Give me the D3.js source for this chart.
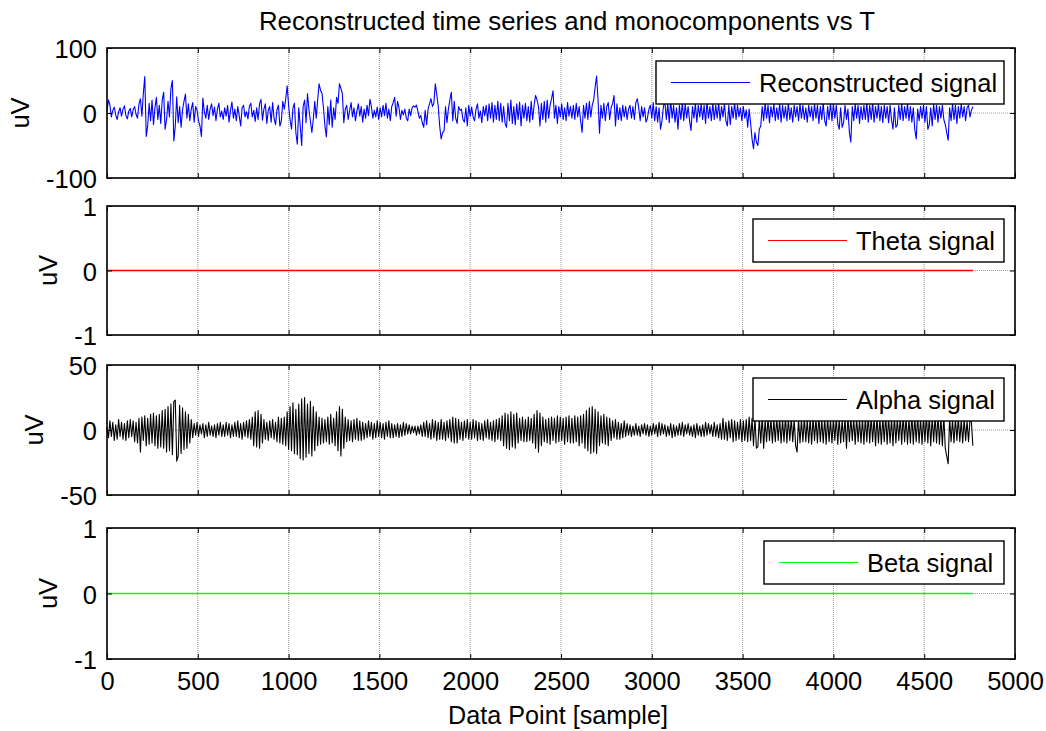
<!DOCTYPE html>
<html><head><meta charset="utf-8">
<script src="https://cdn.jsdelivr.net/npm/d3@7"></script>
<style>
body{margin:0;background:#fff;}
text{font-family:"Liberation Sans",Arial,Helvetica,sans-serif;fill:#000;}
</style>
</head><body>
<svg id="chart" width="1046" height="731"></svg>
<script>
// ---------------- data ----------------
const sampleStep = 8; // samples between stored values
const reconstructed = [
 3,20,12,-6,4,9,-3,-10,2,8,-5,6,11,-4,-9,3,7,-6,5,10,-2,-8,14,22,-5,30,56,-36,-20,15,-12,20,-18,8,24,-10,12,-16,20,32,
 -25,-10,18,-6,38,50,-43,-20,25,-15,10,-22,5,18,29,-8,14,-12,6,16,-14,10,4,-12,-20,-36,23,2,-8,12,-10,6,14,-4,9,-12,6,15,-6,3,
 -10,8,-5,12,-14,4,17,-8,6,-12,10,-4,-20,8,12,-6,2,-9,10,15,-6,4,-13,8,-10,14,21,-11,6,14,-16,4,10,-14,16,-8,-18,5,12,-20,
 -12,18,6,21,42,12,-10,-25,8,15,-30,-48,8,-20,-50,10,20,-15,30,5,-12,-30,-10,18,-8,20,45,35,30,8,-20,-37,10,-18,20,-22,8,-10,24,15,
 45,38,30,-15,6,12,-10,4,16,-6,8,-12,3,14,-5,10,-14,6,-8,12,-4,21,10,-8,4,-6,9,-10,8,-6,12,-4,15,-8,6,-12,10,16,24,-5,
 18,8,-10,4,-3,6,-8,-12,6,-4,8,11,9,12,3,-8,-4,-15,-22,4,-18,6,14,22,10,15,45,28,10,-20,-40,-30,-28,10,-15,6,20,32,-12,18,
 -8,-16,10,4,6,-10,-14,8,-20,12,-5,9,-6,-12,6,14,-8,3,-15,10,-4,12,-12,14,-8,16,-14,12,-10,18,-12,15,-14,10,-16,-22,15,-12,20,-16,
 10,-18,14,-10,17,-20,12,-8,15,-12,10,-14,18,-10,12,27,20,10,-20,15,-10,18,-14,20,-8,12,22,34,-8,12,-16,10,-6,14,-10,8,-12,16,-5,10,
 -8,12,-10,15,-6,10,-12,-30,12,-8,15,-10,18,-6,12,20,40,57,20,-31,12,-8,15,-12,10,16,-10,8,14,27,-20,14,-10,8,-12,12,-6,10,-10,6,
 12,-8,10,-10,16,22,8,-12,10,-6,8,-14,-8,6,12,-8,16,-12,10,-14,8,-25,-12,10,18,-10,14,-15,20,-8,12,-14,8,-25,12,-10,16,-12,14,-8,
 10,-12,-27,10,-8,15,-14,12,-6,14,-10,12,-16,18,-8,10,-12,15,-10,12,-8,16,-12,10,-6,14,-12,-20,12,-18,10,-8,16,-10,12,-6,8,-12,10,-8,
 5,-22,6,-15,-40,-55,-30,-45,-50,-25,-20,10,-12,16,-8,12,-15,10,-6,14,-12,8,-10,15,-14,12,-8,10,-12,16,-10,8,-14,12,-6,10,-12,14,-8,12,
 -10,8,-14,12,-6,10,-12,14,-8,12,-16,10,-10,16,-12,-20,10,-10,16,-12,14,-8,12,-16,-25,8,-22,-15,12,-10,6,-30,-45,10,-12,14,-8,12,-16,10,
 -10,12,-10,16,-14,12,-10,16,-14,10,-8,14,-12,10,-15,12,-8,10,-15,12,-10,-25,8,-22,-18,12,-10,15,-12,10,-8,14,-12,10,-14,8,-25,-40,6,-12,
 10,-8,12,-14,10,-25,-18,8,-20,14,-10,12,-14,10,-8,12,-10,-18,-30,-42,8,-12,14,-10,12,-16,10,-8,14,-6,10,-12,8,12,-6,4,10
];
const alpha = [
 2,-6,7,-5,6,-8,4,-7,8,-5,6,-7,5,-8,7,-6,8,-5,7,-9,6,-10,9,-17,10,-8,11,-12,9,-11,12,-10,13,-12,11,-14,12,-13,15,-14,
 16,-17,18,-16,20,-19,22,23,-24,-20,19,-18,17,-15,14,-14,12,-10,8,-6,5,-4,6,-5,4,-3,5,-6,4,-5,6,-4,3,-5,4,-6,5,-4,6,-5,
 4,-5,6,-4,5,-6,4,-5,6,-5,7,-6,5,-7,6,-5,7,-6,8,-7,10,-12,14,-13,15,-14,12,-10,8,-7,6,-8,7,-6,8,-7,6,-9,10,-10,
 9,-11,10,-12,14,-15,18,-16,21,-18,16,-19,20,-22,24,-23,25,-21,20,-18,22,-20,18,-16,14,-12,10,-11,9,-10,8,-9,10,-11,12,-10,9,-12,14,-16,
 18,-20,16,-14,10,-9,8,-8,7,-9,8,-7,9,-8,7,-8,6,-7,5,-6,7,-5,6,-7,5,-6,7,-5,6,-6,5,-7,6,-5,7,-6,5,-6,4,-5,
 5,-6,4,-5,6,-4,5,-3,4,-3,3,-2,3,-4,3,-3,4,-5,6,-5,7,-6,5,-7,8,-6,7,-8,6,-7,8,-7,6,-8,7,-6,8,-9,10,-10,
 9,-10,8,-7,6,-8,7,-6,8,-7,6,-7,8,-6,7,-8,6,-7,5,-8,7,-6,8,-7,6,-8,7,-9,8,-7,9,-8,11,-12,13,-14,12,-15,14,-13,
 12,-14,13,-10,9,-8,10,-9,8,-9,10,-8,9,-10,12,-14,15,-17,13,-12,10,-9,8,-10,9,-11,10,-8,9,-10,11,-9,10,-8,9,-11,10,-9,11,-10,
 9,-10,11,-9,10,-12,11,-10,12,-14,15,-16,17,-18,18,-17,16,-18,14,-12,11,-10,12,-11,10,-12,9,-8,7,-6,8,-7,6,-7,5,-6,7,-5,5,-4,
 4,-5,3,-4,5,-4,3,-5,4,-3,5,-4,4,-5,3,-4,5,-3,4,-5,6,-4,5,-3,4,-5,3,-4,5,-6,4,-5,3,-4,5,-4,6,-5,4,-3,
 5,-4,3,-5,4,-6,5,-4,3,-5,4,-5,6,-4,5,-3,4,-5,6,-5,4,-6,5,-7,9,-7,6,-8,7,-6,8,-9,7,-8,6,-7,8,-9,7,-8,
 8,-9,10,-8,9,-12,10,-14,-13,9,-10,11,-14,8,-9,10,-8,9,-10,8,-9,10,-8,9,-10,8,-9,11,-10,9,-8,10,-9,8,-12,-17,9,-10,8,-9,
 10,-9,8,-10,9,-11,10,-8,9,-10,11,-9,8,-10,9,-11,10,-9,8,-10,9,-8,10,-11,9,-10,8,-9,10,-14,11,-9,10,-8,9,-11,10,-9,8,-10,
 9,-11,10,-9,12,-10,11,-9,10,-12,11,-10,9,-11,10,-9,12,-11,10,-10,9,-12,11,-10,9,-8,10,-11,12,-9,10,-11,9,-10,12,-11,10,-9,11,-10,
 9,-11,10,-9,12,-10,11,-12,10,-9,11,-10,12,-11,10,-12,11,-14,-20,-26,10,-9,8,-10,9,-8,10,-9,8,-10,9,-8,7,-9,8,6,-12
];
const flatSamples = [0, 4768];
const theta = [0, 0];
const beta = [0, 0];

const xTicks = [0,500,1000,1500,2000,2500,3000,3500,4000,4500,5000];
const panelNames = ["Reconstructed signal","Theta signal","Alpha signal","Beta signal"];
const panelColors = ["#0000ff","#ff0000","#000000","#00ff00"];
const yDomains = [[-100,100],[-1,1],[-50,50],[-1,1]];
const yTickValues = [[-100,0,100],[-1,0,1],[-50,0,50],[-1,0,1]];
const titleText = "Reconstructed time series and monocomponents vs T";
const xLabelText = "Data Point [sample]";
const yLabelText = "uV";

// ---------------- layout ----------------
const svg = d3.select("#chart");
const L = 107, R = 1015;
const tops = [48, 206, 365, 528];
const bottoms = [178, 335, 495, 659];
const legendLeft = [656, 753, 753, 764];
const legendRight = 1004;
const FS = 25.5;
const fmt = d => String(d);

const x = d3.scaleLinear().domain([0,5000]).range([L,R]);

const seriesList = [
  {s: reconstructed.map((v,i)=>i*sampleStep), v: reconstructed, w: 1.1},
  {s: flatSamples, v: theta, w: 1.3},
  {s: alpha.map((v,i)=>i*sampleStep), v: alpha, w: 1.1},
  {s: flatSamples, v: beta, w: 1.6}
];

svg.append("rect").attr("width",1046).attr("height",731).attr("fill","#fff");

panelNames.forEach((name, k) => {
  const y = d3.scaleLinear().domain(yDomains[k]).range([bottoms[k], tops[k]]);
  const g = svg.append("g");
  // grid
  g.selectAll(".gx").data(xTicks).enter().append("line")
    .attr("x1",d=>x(d)).attr("x2",d=>x(d)).attr("y1",tops[k]).attr("y2",bottoms[k])
    .attr("stroke","#9a9a9a").attr("stroke-width",1).attr("stroke-dasharray","1,1");
  g.selectAll(".gy").data(yTickValues[k]).enter().append("line")
    .attr("x1",L).attr("x2",R).attr("y1",d=>y(d)).attr("y2",d=>y(d))
    .attr("stroke","#9a9a9a").attr("stroke-width",1).attr("stroke-dasharray","1,1");
  // data
  const ser = seriesList[k];
  const line = d3.line().x((d,i)=>x(ser.s[i])).y(d=>y(d));
  g.append("path").datum(ser.v).attr("d",line).attr("fill","none")
    .attr("stroke",panelColors[k]).attr("stroke-width",ser.w).attr("stroke-linejoin","round");
  // axes
  const axB = d3.axisBottom(x).tickValues(xTicks).tickSize(-5).tickPadding(13).tickFormat(fmt);
  if (k < 3) axB.tickFormat("");
  const gb = g.append("g").attr("transform",`translate(0,${bottoms[k]})`).call(axB);
  const gt = g.append("g").attr("transform",`translate(0,${tops[k]})`)
    .call(d3.axisTop(x).tickValues(xTicks).tickSize(-5).tickFormat(""));
  const gl = g.append("g").attr("transform",`translate(${L},0)`)
    .call(d3.axisLeft(y).tickValues(yTickValues[k]).tickSize(-5).tickPadding(10).tickFormat(fmt));
  const gr = g.append("g").attr("transform",`translate(${R},0)`)
    .call(d3.axisRight(y).tickValues(yTickValues[k]).tickSize(-5).tickFormat(""));
  [gb,gt,gl,gr].forEach(a=>{
    a.select(".domain").remove();
    a.selectAll("line").attr("stroke","#000").attr("stroke-width",1);
    a.selectAll("text").attr("font-size",FS).attr("font-family","'Liberation Sans',Arial,sans-serif").attr("fill","#000");
  });
  gl.selectAll("text").attr("dy","0.38em");
  // box
  g.append("rect").attr("x",L).attr("y",tops[k]).attr("width",R-L).attr("height",bottoms[k]-tops[k])
    .attr("fill","none").attr("stroke","#000").attr("stroke-width",1.6);
  // y label
  let minX = Infinity;
  gl.selectAll("text").each(function(){ const b=this.getBBox(); minX=Math.min(minX, L+b.x); });
  const cy = (tops[k]+bottoms[k])/2;
  const lx = minX - 17;
  svg.append("text").attr("transform",`translate(${lx},${cy}) rotate(-90)`)
    .attr("text-anchor","middle").attr("font-size",FS).text(yLabelText);
  // legend
  const lt = tops[k]+13, lb = tops[k]+56, ll = legendLeft[k];
  const lg = svg.append("g");
  lg.append("rect").attr("x",ll).attr("y",lt).attr("width",legendRight-ll).attr("height",lb-lt)
    .attr("fill","#fff").attr("stroke","#000").attr("stroke-width",1.4);
  lg.append("line").attr("x1",ll+15).attr("x2",ll+94).attr("y1",(lt+lb)/2).attr("y2",(lt+lb)/2)
    .attr("stroke",panelColors[k]).attr("stroke-width",1.2);
  lg.append("text").attr("x",ll+103).attr("y",(lt+lb)/2+9).attr("font-size",FS).text(name);
});

svg.append("text").attr("x",567).attr("y",30).attr("text-anchor","middle").attr("font-size",25.8).text(titleText);
svg.append("text").attr("x",558).attr("y",724).attr("text-anchor","middle").attr("font-size",25.2).text(xLabelText);
</script>
</body></html>
